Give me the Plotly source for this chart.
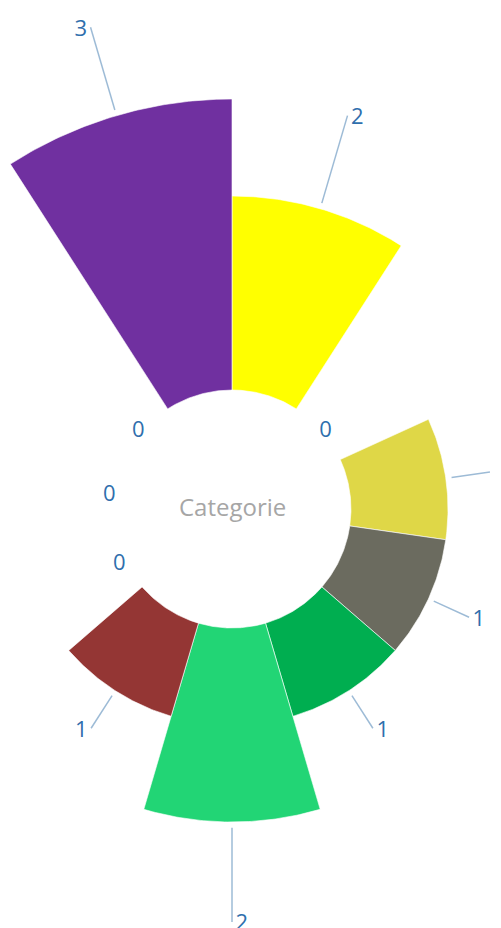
import numpy as np
import plotly.graph_objects as go

# ---- data ----
categories = ["Cat 1", "Cat 2", "Cat 3", "Cat 4", "Cat 5", "Cat 6",
              "Cat 7", "Cat 8", "Cat 9", "Cat 10", "Cat 11"]
values = [2, 0, 1, 1, 1, 2, 1, 0, 0, 0, 3]
colors = ["#ffff00", "#bfbfbf", "#dfd747", "#6b6b5f", "#00ae50", "#22d575",
          "#943634", "#bfbfbf", "#bfbfbf", "#bfbfbf", "#7030a0"]
center_title = "Categorie"

# ---- styling ----
leader_len = [0.94, 0, 0.40, 0.40, 0.40, 0.97, 0.40, 0, 0, 0, 0.89]
leader_gap = 0.06
zero_label_r = 0.05
label_color = "#2f6fad"
line_color = "#9dbbd6"
font_family = "Open Sans, Noto Sans, sans-serif"

W, H = 501, 928
offset = 8                      # page body margin
cx, cy = 232 - offset, 509 - offset   # pixel centre inside the figure
px_per_unit = 97.0
hole = 119 / px_per_unit        # radius of the empty centre, in value units
text_nudge = 3 / px_per_unit    # move label text a few px down

n = len(categories)
step = 360.0 / n


def to_xy(r, ang_deg):
    """polar (radius in value units, angle clockwise from top) -> cartesian."""
    a = np.deg2rad(ang_deg)
    return r * np.sin(a), r * np.cos(a)


fig = go.Figure()

# sectors (nightingale rose with a hole)
for i, (c, v, col) in enumerate(zip(categories, values, colors)):
    if v <= 0:
        continue
    a = np.linspace(i * step, (i + 1) * step, 60)
    xo, yo = to_xy(hole + v, a)
    xi, yi = to_xy(hole, a[::-1])
    fig.add_trace(go.Scatter(
        x=np.concatenate([xo, xi, xo[:1]]),
        y=np.concatenate([yo, yi, yo[:1]]),
        fill="toself", fillcolor=col, mode="lines",
        line=dict(width=0.6, color="white"),
        name=c, hoveron="fills", hoverinfo="name",
        showlegend=False,
    ))

# leader lines + labels
for i, (c, v) in enumerate(zip(categories, values)):
    mid = (i + 0.5) * step
    if v > 0:
        r0 = hole + v + leader_gap
        r1 = r0 + leader_len[i]
        x0, y0 = to_xy(r0, mid)
        x1, y1 = to_xy(r1, mid)
        fig.add_trace(go.Scatter(
            x=[x0, x1], y=[y0, y1], mode="lines",
            line=dict(color=line_color, width=1.5),
            hoverinfo="skip", showlegend=False, cliponaxis=False,
        ))
        pos = "middle right" if mid <= 180 else "middle left"
        fig.add_trace(go.Scatter(
            x=[x1], y=[y1 - text_nudge], mode="markers+text", text=[str(v)],
            marker=dict(size=4, opacity=0),
            textposition=pos,
            textfont=dict(color=label_color, size=22, family=font_family),
            hoverinfo="skip", showlegend=False, cliponaxis=False,
        ))
    else:
        x1, y1 = to_xy(hole + zero_label_r, mid)
        fig.add_trace(go.Scatter(
            x=[x1], y=[y1 - 1.3 * text_nudge], mode="text", text=[str(v)],
            textposition="middle center",
            textfont=dict(color=label_color, size=22, family=font_family),
            hoverinfo="skip", showlegend=False, cliponaxis=False,
        ))

xr = [-cx / px_per_unit, (W - cx) / px_per_unit]
yr = [-(H - cy) / px_per_unit, cy / px_per_unit]

fig.update_layout(
    width=W, height=H,
    margin=dict(l=0, r=0, t=0, b=0),
    paper_bgcolor="white",
    plot_bgcolor="white",
    xaxis=dict(range=xr, visible=False, fixedrange=True),
    yaxis=dict(range=yr, visible=False, fixedrange=True),
    annotations=[dict(
        x=0, y=0, xref="x", yref="y", yshift=3,
        text=center_title, showarrow=False,
        font=dict(color="#a6a6a6", size=24, family=font_family),
        xanchor="center", yanchor="middle",
    )],
)

fig.write_html("out.html")
